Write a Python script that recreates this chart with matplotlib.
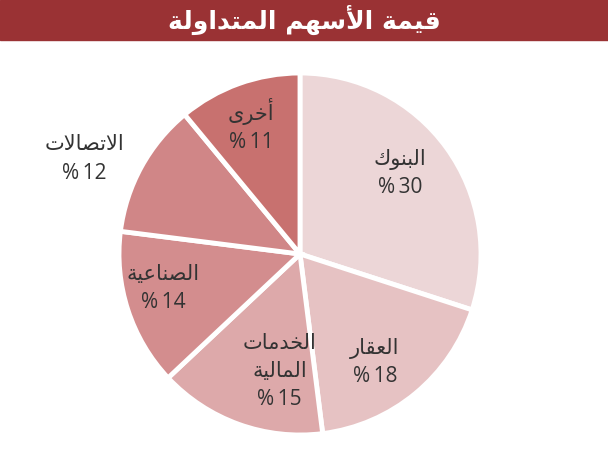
import numpy as np
import matplotlib
matplotlib.use('Agg')
import matplotlib.pyplot as plt
from matplotlib.patches import Rectangle

# data
title = 'قيمة الأسهم المتداولة'
sectors = ['البنوك', 'العقار', 'الخدمات\nالمالية', 'الصناعية', 'الاتصالات', 'أخرى']
shares = [30, 18, 15, 14, 12, 11]
colors = ['#ecd6d7', '#e6c2c3', '#dda9aa', '#d38d8e', '#d08687', '#c8716f']

# matplotlib has no arabic shaping -> map letters to presentation forms by hand
FORMS = {
    'ا': (0xFE8D, 0xFE8E), 'أ': (0xFE83, 0xFE84),
    'ب': (0xFE8F, 0xFE90, 0xFE91, 0xFE92), 'ة': (0xFE93, 0xFE94),
    'ت': (0xFE95, 0xFE96, 0xFE97, 0xFE98), 'خ': (0xFEA5, 0xFEA6, 0xFEA7, 0xFEA8),
    'د': (0xFEA9, 0xFEAA), 'ر': (0xFEAD, 0xFEAE),
    'س': (0xFEB1, 0xFEB2, 0xFEB3, 0xFEB4), 'ص': (0xFEB9, 0xFEBA, 0xFEBB, 0xFEBC),
    'ع': (0xFEC9, 0xFECA, 0xFECB, 0xFECC), 'ق': (0xFED5, 0xFED6, 0xFED7, 0xFED8),
    'ك': (0xFED9, 0xFEDA, 0xFEDB, 0xFEDC), 'ل': (0xFEDD, 0xFEDE, 0xFEDF, 0xFEE0),
    'م': (0xFEE1, 0xFEE2, 0xFEE3, 0xFEE4), 'ن': (0xFEE5, 0xFEE6, 0xFEE7, 0xFEE8),
    'ه': (0xFEE9, 0xFEEA, 0xFEEB, 0xFEEC), 'و': (0xFEED, 0xFEEE),
    'ى': (0xFEEF, 0xFEF0), 'ي': (0xFEF1, 0xFEF2, 0xFEF3, 0xFEF4),
    '\ufefb': (0xFEFB, 0xFEFC), '\ufef7': (0xFEF7, 0xFEF8),
}


def shape(line):
    s = line.replace('لأ', '\ufef7').replace('لا', '\ufefb')
    out = []
    for i, ch in enumerate(s):
        if ch not in FORMS:
            out.append(ch)
            continue
        f = FORMS[ch]
        prev = s[i - 1] if i > 0 else ''
        nxt = s[i + 1] if i + 1 < len(s) else ''
        jp = prev in FORMS and len(FORMS[prev]) == 4
        jn = len(f) == 4 and nxt in FORMS
        if jp and jn:
            c = f[3]
        elif jp:
            c = f[1]
        elif jn:
            c = f[2]
        else:
            c = f[0]
        out.append(chr(c))
    return ''.join(reversed(out))


def ar(text):
    return '\n'.join(shape(l) for l in text.split('\n'))


fig = plt.figure(figsize=(6.08, 4.5), dpi=100)
ax = fig.add_axes([0, 0, 1, 1])

cx, cy, R = 300, 196, 181
wedges, _ = ax.pie(shares, colors=colors, startangle=90, counterclock=False,
                   center=(cx, cy), radius=R, frame=True,
                   wedgeprops=dict(edgecolor='white', linewidth=3.5))
ax.set_xlim(0, 608)
ax.set_ylim(0, 450)
ax.set_aspect('equal')
ax.axis('off')

# label placement: (distance in radii, angle tweak in degrees)
place = [(0.71, 3), (0.73, -5), (0.66, 10), (0.78, -4), (1.30, 5), (0.76, 1)]
start = 90.0
for name, val, (d, tw) in zip(sectors, shares, place):
    mid = start - val * 3.6 / 2 + tw
    start -= val * 3.6
    x = cx + d * R * np.cos(np.radians(mid))
    y = cy + d * R * np.sin(np.radians(mid))
    ax.text(x, y, ar(name) + '\n%\u2009' + str(val), ha='center', va='center',
            fontsize=15, color='#333333', linespacing=1.45,
            family=['Open Sans', 'DejaVu Sans'])

# title bar
ax.add_patch(Rectangle((0, 410), 608, 40, color='#9a3234', zorder=5))
ax.text(304, 430, ar(title), ha='center', va='center', color='white',
        fontsize=18, fontweight='bold', zorder=6)

fig.savefig('out.png', dpi=100)
